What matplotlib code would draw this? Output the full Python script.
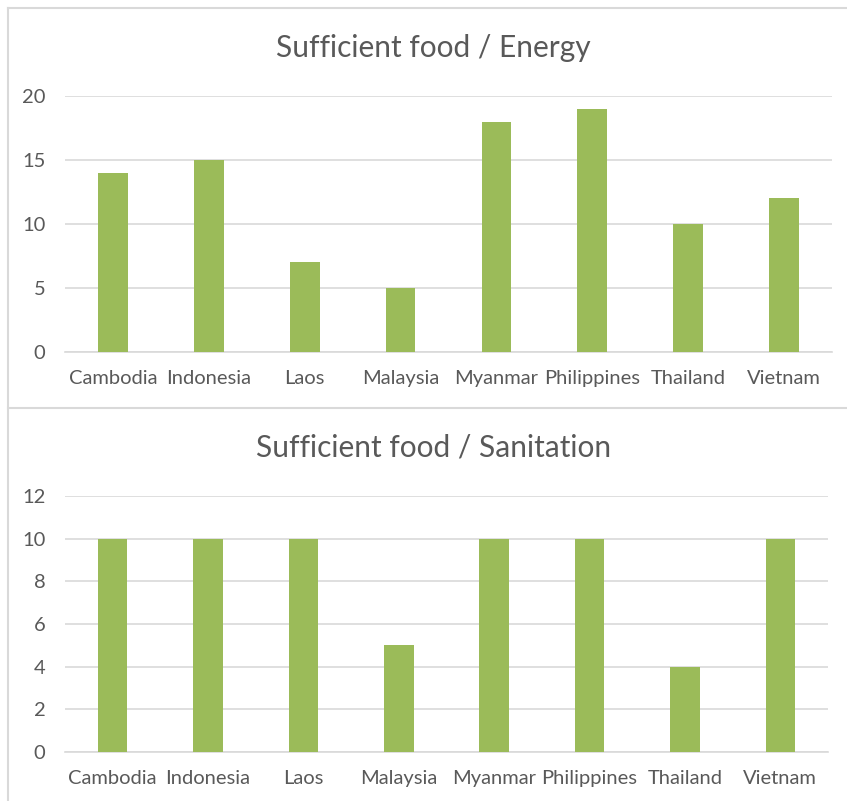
import matplotlib.pyplot as plt
from matplotlib.lines import Line2D

countries = ["Cambodia", "Indonesia", "Laos", "Malaysia", "Myanmar",
             "Philippines", "Thailand", "Vietnam"]
energy = [14, 15, 7, 5, 18, 19, 10, 12]
sanitation = [10, 10, 10, 5, 10, 10, 4, 10]

energy_ticks = [0, 5, 10, 15, 20]
sanitation_ticks = [0, 2, 4, 6, 8, 10, 12]

BAR = '#9BBB59'
GRID = '#D9D9D9'
TEXT = '#595959'

plt.rcParams['font.family'] = ['Lato', 'DejaVu Sans']

W, H = 847, 801
fig = plt.figure(figsize=(W / 100, H / 100), dpi=100)


def px_axes(x0, x1, y_top, y_bot):
    return fig.add_axes([x0 / W, 1 - y_bot / H, (x1 - x0) / W, (y_bot - y_top) / H])


def draw_panel(ax, values, ticks, title, title_y):
    x = range(len(countries))
    ax.bar(x, values, width=0.31, color=BAR, zorder=3)
    ax.set_xlim(-0.5, len(countries) - 0.5)
    ax.set_ylim(ticks[0], ticks[-1])
    ax.set_yticks(ticks)
    ax.set_xticks(list(x))
    ax.set_xticklabels(countries)
    ax.grid(axis='y', color=GRID, linewidth=1.2, zorder=0)
    for s in ['top', 'right', 'left']:
        ax.spines[s].set_visible(False)
    ax.spines['bottom'].set_color(GRID)
    ax.spines['bottom'].set_linewidth(1.2)
    ax.tick_params(axis='both', length=0, labelsize=14.5, colors=TEXT)
    ax.tick_params(axis='y', pad=14)
    ax.tick_params(axis='x', pad=13)
    fig.text(0.512, 1 - title_y / H, title, ha='center', va='center',
             fontsize=21.5, color=TEXT)


ax1 = px_axes(65, 832, 96, 352)
draw_panel(ax1, energy, energy_ticks, "Sufficient food / Energy", 48)

ax2 = px_axes(65, 828, 496, 752)
draw_panel(ax2, sanitation, sanitation_ticks, "Sufficient food / Sanitation", 448)

# chart frame lines
frame = dict(color='#D9D9D9', linewidth=1.5, transform=fig.transFigure)
fig.add_artist(Line2D([8 / W, 8 / W], [0, 1 - 8 / H], **frame))
fig.add_artist(Line2D([8 / W, 1], [1 - 8 / H, 1 - 8 / H], **frame))
fig.add_artist(Line2D([8 / W, 1], [1 - 408 / H, 1 - 408 / H], **frame))

plt.savefig('out.png', dpi=100, facecolor='white')
plt.close()
